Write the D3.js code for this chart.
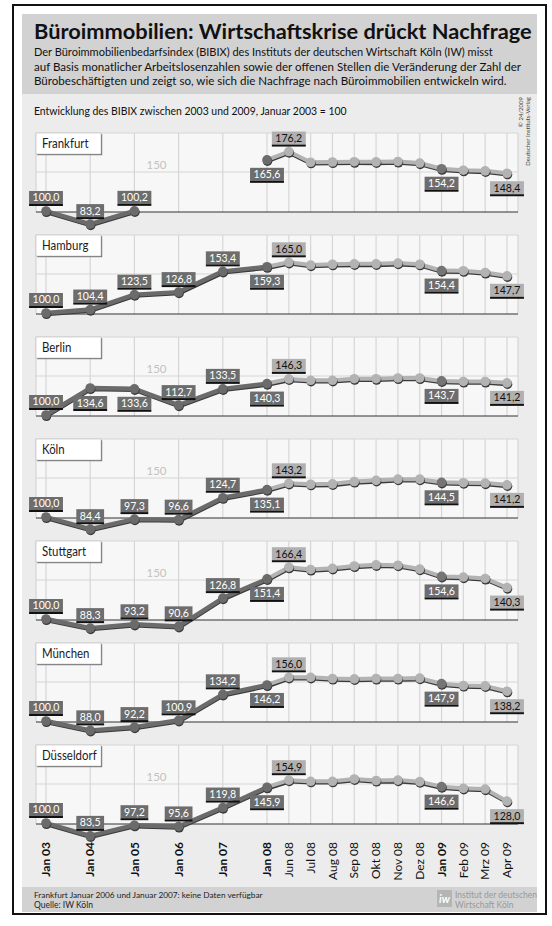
<!DOCTYPE html>
<html><head><meta charset="utf-8">
<script src="https://cdn.jsdelivr.net/npm/d3@7"></script>
<style>
html,body{margin:0;padding:0;background:#fff;}
svg{display:block;}
text{font-family:Lato,"Open Sans","Noto Sans",sans-serif;}
</style></head><body>
<svg id="chart" width="552" height="926"></svg>
<script>
// ---------- DATA ----------
const categories = ["Jan 03","Jan 04","Jan 05","Jan 06","Jan 07","Jan 08","Jun 08","Jul 08","Aug 08","Sep 08","Okt 08","Nov 08","Dez 08","Jan 09","Feb 09","Mrz 09","Apr 09"];
const cities = ["Frankfurt","Hamburg","Berlin","Köln","Stuttgart","München","Düsseldorf"];
const frankfurt   = [100.0, 83.2, 100.2, null, null, 165.6, 176.2, 162.5, 162.8, 163.2, 163.0, 163.5, 161.5, 154.2, 152.3, 151.5, 148.4];
const hamburg     = [100.0, 104.4, 123.5, 126.8, 153.4, 159.3, 165.0, 161.5, 162.5, 163.0, 163.0, 164.0, 162.5, 154.4, 154.2, 152.0, 147.7];
const berlin      = [100.0, 134.6, 133.6, 112.7, 133.5, 140.3, 146.3, 144.5, 144.5, 146.5, 146.5, 147.5, 147.5, 143.7, 143.0, 143.0, 141.2];
const koeln       = [100.0, 84.4, 97.3, 96.6, 124.7, 135.1, 143.2, 142.0, 142.5, 145.5, 147.0, 148.5, 148.5, 144.5, 144.0, 143.5, 141.2];
const stuttgart   = [100.0, 88.3, 93.2, 90.6, 126.8, 151.4, 166.4, 163.5, 165.0, 168.0, 169.5, 169.0, 164.0, 154.6, 153.8, 152.0, 140.3];
const muenchen    = [100.0, 88.0, 92.2, 100.9, 134.2, 146.2, 156.0, 156.0, 154.5, 154.0, 154.5, 154.5, 155.0, 147.9, 145.5, 145.0, 138.2];
const duesseldorf = [100.0, 83.5, 97.2, 95.6, 119.8, 145.9, 154.9, 153.5, 153.5, 156.5, 154.5, 155.0, 153.0, 146.6, 144.5, 143.5, 128.0];
const seriesByCity = {"Frankfurt":frankfurt,"Hamburg":hamburg,"Berlin":berlin,"Köln":koeln,"Stuttgart":stuttgart,"München":muenchen,"Düsseldorf":duesseldorf};

const labeledCategories = ["Jan 03","Jan 04","Jan 05","Jan 06","Jan 07","Jan 08","Jun 08","Jan 09","Apr 09"];
const lightLabelCategories = ["Jun 08","Apr 09"];
const belowLabelCategories = ["Jan 08","Jan 09","Apr 09"];
const berlinBelowCategories = ["Jan 04","Jan 05"];
const citiesWith150Label = ["Frankfurt","Berlin","Köln","Stuttgart","Düsseldorf"];
const gridValues = [200, 150];

const titleText = "Büroimmobilien: Wirtschaftskrise drückt Nachfrage";
const subtitleLines = [
  "Der Büroimmobilienbedarfsindex (BIBIX) des Instituts der deutschen Wirtschaft Köln (IW) misst",
  "auf Basis monatlicher Arbeitslosenzahlen sowie der offenen Stellen die Veränderung der Zahl der",
  "Bürobeschäftigten und zeigt so, wie sich die Nachfrage nach Büroimmobilien entwickeln wird."
];
const chartCaption = "Entwicklung des BIBIX zwischen 2003 und 2009, Januar 2003 = 100";
const copyrightLines = ["© 24/2009","Deutscher Instituts-Verlag"];
const footerLines = ["Frankfurt Januar 2006 und Januar 2007: keine Daten verfügbar","Quelle: IW Köln"];
const logoLines = ["Institut der deutschen","Wirtschaft Köln"];

// ---------- DRAW ----------
const svg = d3.select("#chart");
function squeezeTo(sel, target) {
  sel.each(function(){
    const L = this.getComputedTextLength();
    if (!(L > 0)) return;
    const s = target / L;
    const xx = +this.getAttribute("x") || 0, yy = +this.getAttribute("y") || 0;
    this.setAttribute("transform", `translate(${xx},${yy}) scale(${s},1) translate(${-xx},${-yy})`);
  });
}
function squeezeBy(sel, f) {
  sel.each(function(){
    const L = this.getComputedTextLength();
    if (L > 0) squeezeTo(d3.select(this), L * f);
  });
}
const fmt = v => d3.format(".1f")(v).replace(".", ",");

// frame and background areas
svg.append("rect").attr("x",13).attr("y",5).attr("width",533).attr("height",909)
  .attr("fill","#fff").attr("stroke","#111").attr("stroke-width",2);
svg.append("rect").attr("x",22).attr("y",14).attr("width",515).attr("height",80).attr("fill","#d2d2d2");
svg.append("rect").attr("x",22).attr("y",94).attr("width",515).attr("height",793).attr("fill","#ececec");
svg.append("rect").attr("x",22).attr("y",887).attr("width",515).attr("height",25).attr("fill","#d2d2d2");

// title & subtitle
svg.append("text").attr("x",34).attr("y",39.5).attr("font-size",21).attr("font-weight",700)
  .attr("fill","#111").text(titleText).call(squeezeTo, 498);
const subtitleWidths = [459, 488, 473];
subtitleLines.forEach((t, i) => {
  svg.append("text").attr("x",34).attr("y",56.5 + i*14.5).attr("font-size",12).attr("fill","#111")
    .text(t).call(squeezeTo, subtitleWidths[i]);
});
svg.append("text").attr("x",34).attr("y",115.5).attr("font-size",11.5).attr("fill","#111")
  .text(chartCaption).call(squeezeTo, 313);

// copyright (vertical)
copyrightLines.forEach((t, i) => {
  svg.append("text").attr("transform", `translate(${523 + i*7},97) rotate(-90)`)
    .attr("text-anchor","end").attr("font-size",6).attr("fill","#444").text(t);
});

// scales
const x = d3.scaleLinear().domain([0, 5, categories.length - 1]).range([46, 267, 507]);
const PH = 79;
const y = d3.scaleLinear().domain([100, 200]).range([78, 0]);
const panelTop = i => 133 + i * 102;
const gridLeft = 36, gridRight = 518;

const line = d3.line().defined(d => d.v != null).x(d => x(d.i)).y(d => y(d.v));

cities.forEach((city, ci) => {
  const vals = seriesByCity[city];
  const pts = vals.map((v, i) => ({i, v, cat: categories[i]}));
  const g = svg.append("g").attr("transform", `translate(0,${panelTop(ci)})`);

  g.append("rect").attr("x",gridLeft).attr("y",0).attr("width",gridRight-gridLeft).attr("height",PH).attr("fill","#f7f7f7");
  g.selectAll("line.v").data(categories).join("line").attr("class","v")
    .attr("x1",(d,i)=>x(i)).attr("x2",(d,i)=>x(i)).attr("y1",0).attr("y2",PH)
    .attr("stroke","#d6d6d6").attr("stroke-width",1.2);
  g.selectAll("line.e").data([gridLeft, gridRight]).join("line").attr("class","e")
    .attr("x1",d=>d).attr("x2",d=>d).attr("y1",0).attr("y2",PH)
    .attr("stroke","#d6d6d6").attr("stroke-width",1.2);
  g.selectAll("line.h").data(gridValues).join("line").attr("class","h")
    .attr("x1",gridLeft).attr("x2",gridRight).attr("y1",d=>y(d)).attr("y2",d=>y(d))
    .attr("stroke","#d6d6d6").attr("stroke-width",1.2);
  g.append("line").attr("x1",gridLeft).attr("x2",gridRight).attr("y1",PH).attr("y2",PH)
    .attr("stroke","#333").attr("stroke-width",1.2);

  if (citiesWith150Label.includes(city)) {
    g.append("text").attr("x",(x(2)+x(3))/2).attr("y",y(150)-3).attr("text-anchor","middle")
      .attr("font-size",11.5).attr("fill","#c2c2c2").text("150");
  }

  // city box
  g.append("rect").attr("x",gridLeft+1.2).attr("y",1.2).attr("width",65).attr("height",21).attr("fill","#707070");
  g.append("rect").attr("x",gridLeft).attr("y",0).attr("width",65).attr("height",21).attr("fill","#fff")
    .attr("stroke","#bbb").attr("stroke-width",0.6);
  g.append("text").attr("x",gridLeft+6).attr("y",15).attr("font-size",13).attr("fill","#1a1a1a")
    .text(city).call(squeezeBy, 0.88);

  const dark = pts.slice(0, 6);
  const light = pts.slice(5);

  g.append("path").datum(light).attr("d",line).attr("transform","translate(0.5,1.6)")
    .attr("fill","none").attr("stroke","#3a3a3a").attr("stroke-width",3.4).attr("stroke-linejoin","round");
  g.append("path").datum(light).attr("d",line)
    .attr("fill","none").attr("stroke","#b3b3b3").attr("stroke-width",4).attr("stroke-linejoin","round");
  g.append("path").datum(dark).attr("d",line).attr("transform","translate(0.5,1.4)")
    .attr("fill","none").attr("stroke","#3a3a3a").attr("stroke-width",3.6).attr("stroke-linejoin","round");
  g.append("path").datum(dark).attr("d",line)
    .attr("fill","none").attr("stroke","#6b6b6b").attr("stroke-width",4.4).attr("stroke-linejoin","round");

  const valid = pts.filter(d => d.v != null);
  const markerColor = d => (d.i <= 5 ? "#6b6b6b" : (d.cat === "Jan 09" ? "#757575" : "#b3b3b3"));
  g.selectAll("circle.s").data(valid).join("circle").attr("class","s")
    .attr("cx",d=>x(d.i)+0.5).attr("cy",d=>y(d.v)+1.3).attr("r",4.8).attr("fill","#3a3a3a");
  g.selectAll("circle.m").data(valid).join("circle").attr("class","m")
    .attr("cx",d=>x(d.i)).attr("cy",d=>y(d.v)).attr("r",4.8).attr("fill",markerColor);

  valid.filter(d => labeledCategories.includes(d.cat)).forEach(d => {
    const isLight = lightLabelCategories.includes(d.cat);
    const below = belowLabelCategories.includes(d.cat) || (city === "Berlin" && berlinBelowCategories.includes(d.cat));
    const px = x(d.i), py = y(d.v);
    const bh = 13;
    const top = below ? py + 8 : py - 5 - bh - 2;
    const lg = g.append("g");
    const t = lg.append("text").attr("x",px).attr("y",top+10.5).attr("text-anchor","middle").attr("font-size",12)
      .attr("fill", isLight ? "#111" : "#fff").text(fmt(d.v));
    const L = t.node().getComputedTextLength() * 0.88;
    t.call(squeezeTo, L);
    const bw = L + 7;
    lg.insert("rect","text").attr("x",px-bw/2).attr("y",top).attr("width",bw).attr("height",bh)
      .attr("fill", isLight ? "#b0b0b0" : "#6d6d6d");
    lg.insert("rect","text").attr("x",px-bw/2).attr("y",top+bh).attr("width",bw).attr("height",2).attr("fill","#111");
  });
});

// x-axis labels
const xl = svg.append("g");
categories.forEach((c, i) => {
  xl.append("text").attr("transform", `translate(${x(i)},842) rotate(-90)`)
    .attr("text-anchor","end").attr("dy","0.35em").attr("font-size",12)
    .attr("font-weight", c.startsWith("Jan") ? 700 : 400).attr("fill","#111").text(c);
});

// footer
footerLines.forEach((t, i) => {
  const el = svg.append("text").attr("x",34).attr("y",898.5 + i*9.5).attr("font-size",8.5).attr("fill","#222").text(t);
  if (i === 0) el.call(squeezeTo, 229);
});
svg.append("rect").attr("x",437).attr("y",890).attr("width",15).attr("height",17).attr("fill","#b5b5b5");
svg.append("text").attr("x",444.5).attr("y",903).attr("text-anchor","middle").attr("font-size",11)
  .attr("font-weight",700).attr("font-style","italic").attr("fill","#fff").text("iw");
logoLines.forEach((t, i) => {
  svg.append("text").attr("x",455).attr("y",898 + i*9.5).attr("font-size",8.5).attr("fill","#999").text(t);
});
</script>
</body></html>
